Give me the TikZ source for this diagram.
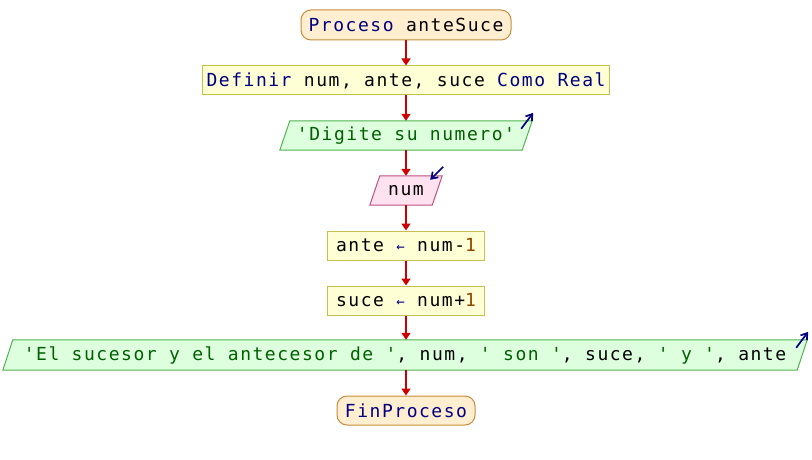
\documentclass[tikz,border=0pt]{standalone}
\usepackage{fontspec}
\usetikzlibrary{arrows.meta,backgrounds,calc}
\newfontfamily\pmono[LetterSpace=8.5]{DejaVu Sans Mono}
\definecolor{kw}{RGB}{0,0,128}
\definecolor{strc}{RGB}{0,96,0}
\definecolor{numc}{RGB}{140,70,0}
\definecolor{termfill}{RGB}{255,238,208}
\definecolor{termdraw}{RGB}{200,140,60}
\definecolor{procfill}{RGB}{255,255,214}
\definecolor{procdraw}{RGB}{200,190,80}
\definecolor{outfill}{RGB}{222,255,222}
\definecolor{outdraw}{RGB}{80,180,80}
\definecolor{infill}{RGB}{255,226,240}
\definecolor{indraw}{RGB}{190,80,130}
\definecolor{flow}{RGB}{204,0,0}
\tikzset{
  base/.style={font=\pmono\fontsize{18}{20}\selectfont, inner sep=0pt, minimum height=29pt, anchor=center},
  term/.style={base, draw=termdraw, fill=termfill, line width=1pt, rounded corners=10pt},
  proc/.style={base, draw=procdraw, fill=procfill, line width=1pt},
  io/.style={base},
  flowline/.style={draw=flow, line width=1.7pt, -{Triangle[length=7pt,width=9pt]}},
  ioarrow/.style={draw=kw, line width=1.7pt, -{Straight Barb[length=6pt,width=8pt]}},
}
\newcommand{\ioshape}[4]{% node, slant, fill, draw
  \begin{pgfonlayer}{background}
  \draw[fill=#3, draw=#4, line width=1pt]
    ($(#1.north west)+(#2,0)$) -- ($(#1.north east)+(#2,0)$) --
    ($(#1.south east)+(-#2,0)$) -- ($(#1.south west)+(-#2,0)$) -- cycle;
  \end{pgfonlayer}}
\begin{document}
\begin{tikzpicture}[x=1pt,y=-1pt]
\begin{pgfonlayer}{background}
\fill[white] (0,0) rectangle (812,460);
\end{pgfonlayer}
\useasboundingbox (0,0) rectangle (812,460);
\node[term, minimum width=210pt, minimum height=30pt] (start) at (406,25) {\textcolor{kw}{Proceso} anteSuce};
\node[proc, minimum width=407pt] (def) at (406,80.5) {\textcolor{kw}{Definir} num, ante, suce \textcolor{kw}{Como Real}};
\node[io, minimum width=242pt] (out1) at (406,135.5) {\textcolor{strc}{'Digite su numero'}};
\ioshape{out1}{5}{outfill}{outdraw}
\node[io, minimum width=62pt] (in1) at (406,190.5) {num};
\ioshape{in1}{5}{infill}{indraw}
\node[proc, minimum width=157pt] (a1) at (406,245.5) {ante \textcolor{kw}{\fontsize{14}{14}\selectfont←} num-\textcolor{numc}{1}};
\node[proc, minimum width=157pt] (a2) at (406,300.5) {suce \textcolor{kw}{\fontsize{14}{14}\selectfont←} num+\textcolor{numc}{1}};
\node[io, minimum width=794pt, minimum height=30pt] (out2) at (405,355) {\textcolor{strc}{'El sucesor y el antecesor de '}, num, \textcolor{strc}{' son '}, suce, \textcolor{strc}{' y '}, ante};
\ioshape{out2}{5}{outfill}{outdraw}
\node[term, minimum width=138pt] (end) at (406,410.5) {\textcolor{kw}{FinProceso}};
\draw[flowline] (start.south) -- (def.north);
\draw[flowline] (def.south) -- (out1.north);
\draw[flowline] (out1.south) -- (in1.north);
\draw[flowline] (in1.south) -- (a1.north);
\draw[flowline] (a1.south) -- (a2.north);
\draw[flowline] (a2.south) -- (a2.south |- out2.north);
\draw[flowline] (end.north |- out2.south) -- (end.north);
\coordinate (o1t) at ($(out1.north east)+(5,0)$);
\draw[ioarrow] ($(o1t)+(-11,8)$) -- ($(o1t)+(1,-8)$);
\coordinate (i1t) at ($(in1.north east)+(5,0)$);
\draw[ioarrow] ($(i1t)+(1,-9)$) -- ($(i1t)+(-12,4)$);
\coordinate (o2t) at ($(out2.north east)+(5,0)$);
\draw[ioarrow] ($(o2t)+(-11,8)$) -- ($(o2t)+(1,-8)$);
\end{tikzpicture}
\end{document}
